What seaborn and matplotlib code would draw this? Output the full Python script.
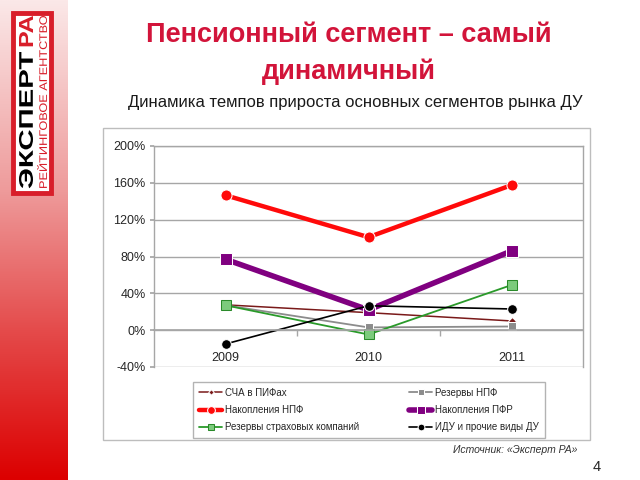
import numpy as np
import pandas as pd
import matplotlib
matplotlib.use("Agg")
import matplotlib.pyplot as plt
import seaborn as sns
from matplotlib.patches import Rectangle, PathPatch
from matplotlib.path import Path
from matplotlib.textpath import TextPath
from matplotlib.font_manager import FontProperties
from matplotlib.colors import LinearSegmentedColormap

# ---- data ----
years = ["2009", "2010", "2011"]
scha_pif = [27.5, 19, 10]
rez_npf = [27, 3, 4]
nak_npf = [146.5, 101, 157.5]
nak_pfr = [77, 22, 86]
rez_strakh = [27, -4.7, 49]
idu_other = [-15, 26.5, 23]
series_names = ["СЧА в ПИФах", "Резервы НПФ", "Накопления НПФ",
                "Накопления ПФР", "Резервы страховых компаний", "ИДУ и прочие виды ДУ"]
yticks = [-40, 0, 40, 80, 120, 160, 200]

series_values = [scha_pif, rez_npf, nak_npf, nak_pfr, rez_strakh, idu_other]
df = pd.DataFrame([(n, y, v) for n, vals in zip(series_names, series_values)
                   for y, v in zip(years, vals)], columns=["series", "year", "value"])

sns.set_theme(style="white")
plt.rcParams['font.family'] = ['Liberation Sans', 'DejaVu Sans']

fig = plt.figure(figsize=(6.4, 4.8), dpi=100)
W, H = 640, 480

def fx(x): return x / W
def fy(y): return 1 - y / H

# red gradient strip
sax = fig.add_axes([0, 0, fx(68), 1])
cmap = LinearSegmentedColormap.from_list("strip", [(0, "#FBE8E8"), (0.4, "#EE9A9A"),
                                                   (0.7, "#E44848"), (1.0, "#DC0000")])
sax.imshow(np.linspace(0, 1, 256).reshape(-1, 1), aspect="auto", cmap=cmap)
sax.set_axis_off()

# overlay axes in pixel coordinates (y up) for logo
lax = fig.add_axes([0, 0, 1, 1], facecolor="none")
lax.set_xlim(0, W)
lax.set_ylim(0, H)
lax.set_axis_off()

def rotated_text(s, weight, color, xl, xr, ytop, ybot):
    tp = TextPath((0, 0), s, size=20,
                  prop=FontProperties(family="Liberation Sans", weight=weight))
    v = tp.vertices.copy()
    a, b = v[:, 0].min(), v[:, 0].max()
    c, d = v[:, 1].min(), v[:, 1].max()
    # rotate 90 deg CCW: X = -y, Y = x
    X = (-v[:, 1] - (-d)) / (d - c) * (xr - xl) + xl
    Y = (v[:, 0] - a) / (b - a) * ((H - ytop) - (H - ybot)) + (H - ybot)
    lax.add_patch(PathPatch(Path(np.column_stack([X, Y]), tp.codes),
                            facecolor=color, edgecolor="none", zorder=6))

lax.add_patch(Rectangle((13, H - 193), 38, 180, facecolor="white",
                        edgecolor="#D81E2A", lw=3.5, zorder=5))
rotated_text("ЭКСПЕРТ", "bold", "black", 19, 33, 52, 189)
rotated_text("РА", "bold", "#D81E2A", 19, 33, 16, 48)
rotated_text("РЕЙТИНГОВОЕ АГЕНТСТВО", "normal", "#D81E2A", 37, 47, 16, 189)

# titles
fig.text(fx(349), fy(35), "Пенсионный сегмент – самый", ha="center", va="center",
         fontsize=19.5, fontweight="bold", color="#D2143A")
fig.text(fx(349), fy(72), "динамичный", ha="center", va="center",
         fontsize=19.5, fontweight="bold", color="#D2143A")
fig.text(fx(355), fy(102), "Динамика темпов прироста основных сегментов рынка ДУ",
         ha="center", va="center", fontsize=12, color="#1A1A1A")

# chart frame
fig.patches.append(Rectangle((fx(103), fy(440)), fx(487), 312 / H, transform=fig.transFigure,
                             facecolor="none", edgecolor="#BDBDBD", lw=1))

ax = fig.add_axes([fx(154), fy(367), fx(429), 221 / H])
styles = {
    "СЧА в ПИФах": dict(color="#7A1A1A", lw=1.1, marker="D", markersize=4),
    "Резервы НПФ": dict(color="#8C8C8C", lw=1.3, marker="s", markersize=6),
    "Накопления НПФ": dict(color="#FF0A0A", lw=3.2, marker="o", markersize=8),
    "Накопления ПФР": dict(color="#800080", lw=4, marker="s", markersize=9),
    "Резервы страховых компаний": dict(color="#2A9A2A", lw=1.3, marker="s", markersize=7,
                                       markerfacecolor="#7CCB7C", markeredgecolor="#2A8A2A"),
    "ИДУ и прочие виды ДУ": dict(color="black", lw=1.2, marker="o", markersize=7),
}
for name in series_names:
    sub = df[df["series"] == name]
    sns.lineplot(data=sub, x="year", y="value", ax=ax, label=name, **styles[name])

ax.set_xlim(-0.5, 2.5)
ax.set_ylim(-40, 200)
ax.set_yticks(yticks)
ax.set_yticklabels([f"{t}%" for t in yticks])
ax.yaxis.grid(True, color="#A6A6A6", lw=1)
ax.set_axisbelow(True)
ax.set_xlabel("")
ax.set_ylabel("")
for s in ["left", "right", "top"]:
    ax.spines[s].set_color("#A6A6A6")
    ax.spines[s].set_linewidth(1)
ax.spines["bottom"].set_position(("data", 0))
ax.spines["bottom"].set_color("#A6A6A6")
ax.set_xticks([0, 1, 2])
ax.set_xticks([0.5, 1.5], minor=True)
ax.tick_params(axis="x", which="major", length=0, pad=16, labelsize=9, labelcolor="#262626")
ax.tick_params(axis="x", which="minor", length=4, direction="out", color="#A6A6A6", bottom=True)
ax.tick_params(axis="y", length=3, direction="out", color="#A6A6A6", left=True, pad=3,
               labelsize=9, labelcolor="#262626")

handles, labels = ax.get_legend_handles_labels()
if ax.get_legend() is not None:
    ax.get_legend().remove()
order = [0, 2, 4, 1, 3, 5]
leg = fig.legend([handles[i] for i in order], [labels[i] for i in order],
                 loc="center", bbox_to_anchor=(fx(193), fy(437), fx(352), 54 / H),
                 mode="expand", ncol=2, fontsize=7, handlelength=2.4, labelspacing=0.75,
                 borderaxespad=0, frameon=True, fancybox=False, markerscale=0.7,
                 handletextpad=0.3, borderpad=0.6)
leg.get_frame().set_edgecolor("#A0A0A0")
leg.get_frame().set_linewidth(1)

fig.text(fx(577), fy(450), "Источник: «Эксперт РА»", ha="right", va="center",
         fontsize=7.5, style="italic", color="#333333")
fig.text(fx(597), fy(467), "4", ha="center", va="center", fontsize=10.5, color="#262626")

fig.savefig("out.png", dpi=100)
